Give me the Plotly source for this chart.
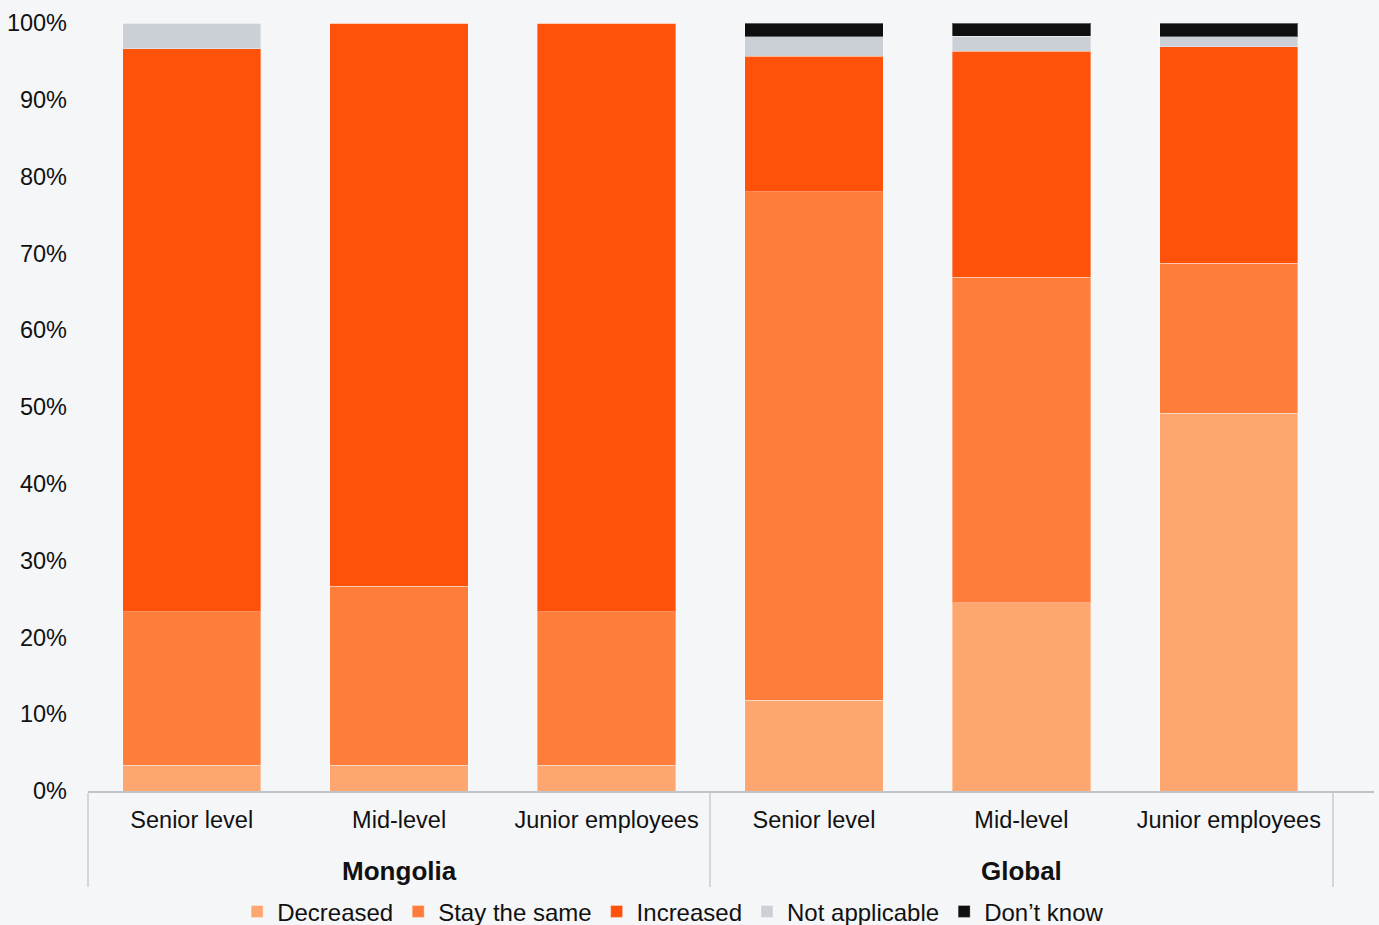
import plotly.graph_objects as go

# Respondent groups and job levels
regions = ["Mongolia", "Mongolia", "Mongolia", "Global", "Global", "Global"]
levels = ["Senior level", "Mid-level", "Junior employees",
          "Senior level", "Mid-level", "Junior employees"]

# Share of responses (%) per answer, in the same order as the bars
decreased = [3.33, 3.33, 3.33, 11.8, 24.5, 49.2]
stay_same = [20.0, 23.33, 20.0, 66.2, 42.4, 19.5]
increased = [73.33, 73.33, 76.67, 17.7, 29.4, 28.2]
not_applicable = [3.33, 0.0, 0.0, 2.5, 1.95, 1.3]
dont_know = [0.0, 0.0, 0.0, 1.8, 1.75, 1.8]

y_ticks = [0, 10, 20, 30, 40, 50, 60, 70, 80, 90, 100]

series = [
    ("Decreased", decreased, "#FEA66F"),
    ("Stay the same", stay_same, "#FE7D3B"),
    ("Increased", increased, "#FE520A"),
    ("Not applicable", not_applicable, "#CBD0D7"),
    ("Don\u2019t know", dont_know, "#0F0F0F"),
]

FONT = "Liberation Sans, Arial, sans-serif"
BG = "#F5F6F8"
INK = "#111111"

# group names sit one line lower than the job-level labels
group_labels = [f" <br><span style='font-size:26px'><b>{r}</b></span>" for r in regions]

fig = go.Figure()
for name, vals, color in series:
    fig.add_trace(go.Bar(
        x=[group_labels, levels],
        y=vals,
        name=name,
        marker=dict(color=color, line=dict(color="rgba(255,255,255,0.35)", width=1)),
        hoverinfo="name+y",
    ))

fig.update_layout(
    width=1379,
    height=925,
    barmode="stack",
    bargap=0.333,
    paper_bgcolor=BG,
    plot_bgcolor=BG,
    font=dict(family=FONT, size=23.5, color=INK),
    margin=dict(l=88, r=5, t=23, b=134, autoexpand=False),
    showlegend=True,
    legend=dict(
        orientation="h",
        x=0.455, xanchor="center",
        y=-0.128, yanchor="top",
        font=dict(family=FONT, size=24, color=INK),
        traceorder="normal",
        itemwidth=30,
        bgcolor="rgba(0,0,0,0)",
    ),
)

fig.update_xaxes(
    type="multicategory",
    range=[-0.5, 5.7],
    automargin=False,
    showline=True,
    linecolor="#BFC4CB",
    linewidth=2,
    showgrid=False,
    ticks="",
    ticklabelstandoff=7,
    showdividers=True,
    dividercolor="#D3D6DB",
    dividerwidth=2,
    tickfont=dict(family=FONT, size=23.5, color=INK),
)

fig.update_yaxes(
    range=[0, 100],
    automargin=False,
    tickvals=y_ticks,
    ticktext=[f"{v}%" for v in y_ticks],
    showgrid=False,
    zeroline=False,
    showline=False,
    ticks="",
    ticklabelstandoff=20,
    tickfont=dict(family=FONT, size=23.5, color=INK),
)

fig.write_html("out.html")
